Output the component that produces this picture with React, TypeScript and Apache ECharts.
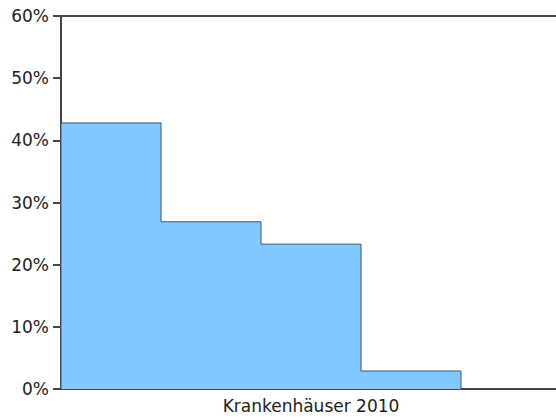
import React, { useEffect, useRef } from "react";
import * as echarts from "echarts";

const categories = ["Krankenhäuser 2010"];
const seriesNames = ["Gruppe 1", "Gruppe 2", "Gruppe 3", "Gruppe 4", "Gruppe 5"];
const seriesValues: (number | null)[] = [42.8, 26.9, 23.3, 2.9, null];
const yTicks = { min: 0, max: 60, interval: 10 };

export default function App() {
  const ref = useRef<HTMLDivElement>(null);
  useEffect(() => {
    if (!ref.current) return;
    const chart = echarts.init(ref.current, null, { renderer: "svg" });
    const font = "DejaVu Sans, Verdana, sans-serif";
    const slots = seriesValues.length;
    const outlineData = seriesValues
      .map((v, i) => [0, i, v, i + 1 < slots ? seriesValues[i + 1] ?? 0 : 0])
      .filter((d) => d[2] !== null);
    chart.setOption({
      animation: false,
      grid: { left: 61, right: 0, top: 16, bottom: 30, containLabel: false },
      xAxis: [
        {
          type: "category",
          data: categories,
          axisLine: { show: true, lineStyle: { color: "#3f4a55", width: 2 } },
          axisTick: { show: false },
          axisLabel: { color: "#222", fontSize: 17, fontFamily: font, margin: 8 },
        },
        {
          type: "category",
          position: "top",
          data: categories,
          axisLine: { show: true, lineStyle: { color: "#444", width: 2 } },
          axisTick: { show: false },
          axisLabel: { show: false },
        },
      ],
      yAxis: {
        type: "value",
        min: yTicks.min,
        max: yTicks.max,
        interval: yTicks.interval,
        axisLine: { show: true, lineStyle: { color: "#444", width: 2 } },
        axisTick: { show: true, length: 8, lineStyle: { color: "#444", width: 2 } },
        axisLabel: {
          color: "#222",
          fontSize: 17,
          fontFamily: font,
          margin: 12,
          formatter: (v: number) => `${v}%`,
        },
        splitLine: { show: false },
      },
      series: [
        ...seriesNames.map((name, i) => ({
          name,
          type: "bar",
          data: [seriesValues[i] === null ? "-" : seriesValues[i]],
          barGap: "0%",
          barCategoryGap: "0%",
          itemStyle: { color: "#80c8ff", borderWidth: 0 },
        })),
        {
          type: "custom",
          name: "outline",
          z: 5,
          data: outlineData,
          renderItem: (_params: any, api: any) => {
            const cat = api.value(0);
            const idx = api.value(1);
            const v = api.value(2);
            const next = api.value(3);
            const center = api.coord([cat, 0]);
            const band = api.size([1, 0])[0];
            const w = band / slots;
            const left = center[0] - band / 2 + idx * w;
            const right = left + w;
            const base = center[1];
            const top = api.coord([cat, v])[1];
            const nextTop = api.coord([cat, next])[1];
            const pts: number[][] = [];
            if (idx === 0) pts.push([left, base]);
            pts.push([left, top], [right, top], [right, nextTop]);
            return {
              type: "polyline",
              shape: { points: pts },
              style: { stroke: "#4a5560", lineWidth: 1, fill: null },
            };
          },
        },
      ],
    });
    return () => chart.dispose();
  }, []);
  return (
    <div style={{ width: 556, height: 419, position: "absolute", left: 0, top: 0, overflow: "hidden" }}>
      <div ref={ref} style={{ width: 561, height: 419 }} />
    </div>
  );
}
